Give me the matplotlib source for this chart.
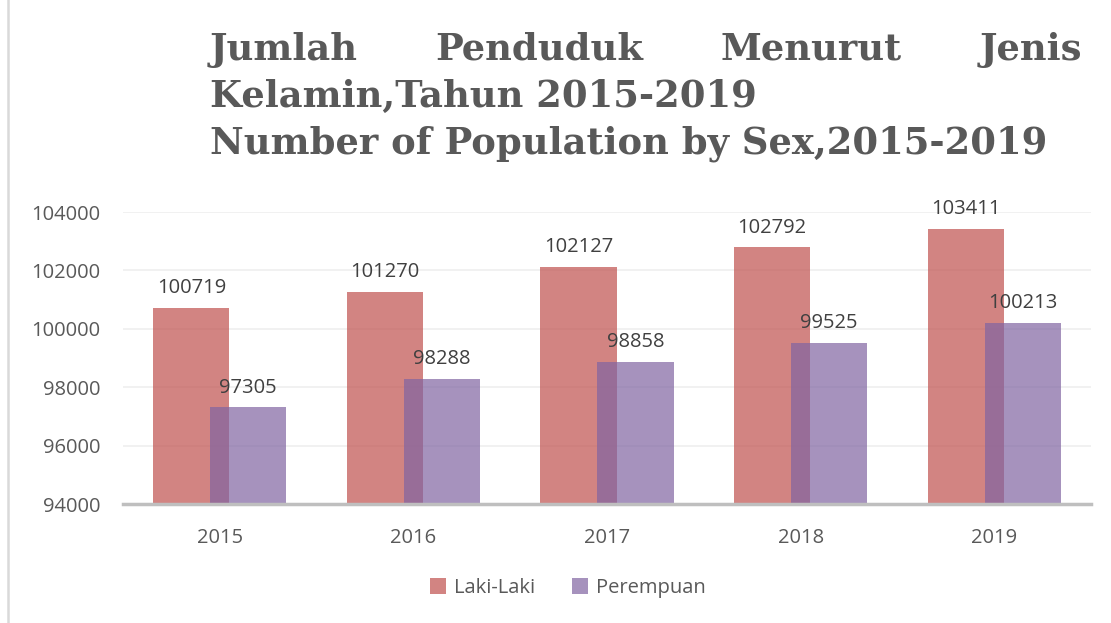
import matplotlib.pyplot as plt
from matplotlib.lines import Line2D
import numpy as np

years = ['2015', '2016', '2017', '2018', '2019']
laki = [100719, 101270, 102127, 102792, 103411]
perempuan = [97305, 98288, 98858, 99525, 100213]
series_names = ['Laki-Laki', 'Perempuan']
title_line1 = ['Jumlah', 'Penduduk', 'Menurut', 'Jenis']
title_rest = ['Kelamin,Tahun 2015-2019', 'Number of Population by Sex,2015-2019']

plt.rcParams['font.family'] = ['Open Sans', 'DejaVu Sans']

W, H = 1111, 623
fig = plt.figure(figsize=(W / 100, H / 100), dpi=100)
ax = fig.add_axes([123 / W, 1 - 504 / H, (1091 - 123) / W, (504 - 212) / H])

x = np.arange(len(years))
bw = 0.393
off = 0.147
red = '#C0504D'
purple = '#8064A2'
ax.bar(x - off, laki, bw, color=red, alpha=0.7, label=series_names[0], zorder=2)
ax.bar(x + off, perempuan, bw, color=purple, alpha=0.7, label=series_names[1], zorder=3)

for xi, v in zip(x, laki):
    ax.annotate(str(v), (xi - off, v), xytext=(0, 7), textcoords='offset points',
                ha='center', va='bottom', fontsize=14.5, color='#404040')
for xi, v in zip(x, perempuan):
    ax.annotate(str(v), (xi + off, v), xytext=(0, 7), textcoords='offset points',
                ha='center', va='bottom', fontsize=14.5, color='#404040')

ax.set_ylim(94000, 104000)
ax.set_xlim(-0.5, 4.5)
ax.set_yticks(np.arange(94000, 104001, 2000))
ax.set_xticks(x)
ax.set_xticklabels(years)
ax.yaxis.grid(True, color='#EFEFEF', linewidth=1.2, zorder=0)
ax.set_axisbelow(True)
for s in ['top', 'right', 'left']:
    ax.spines[s].set_visible(False)
ax.spines['bottom'].set_color('#BFBFBF')
ax.spines['bottom'].set_linewidth(2.5)
ax.spines['bottom'].set_zorder(4)
ax.tick_params(length=0, labelsize=14.5, colors='#595959')
ax.tick_params(axis='x', pad=17)
ax.tick_params(axis='y', pad=16)

ax.legend(loc='center', bbox_to_anchor=(568 / W, (H - 588) / H), bbox_transform=fig.transFigure,
          ncol=2, frameon=False, fontsize=14.5, labelcolor='#595959',
          handlelength=0.8, handleheight=0.8, handletextpad=0.4, columnspacing=1.8)

# left border of chart area
fig.add_artist(Line2D([7.5 / W, 7.5 / W], [0, 1], color='#D9D9D9', linewidth=1.8))

# title: fit third line to its width, first line justified
x0, x1 = 210, 1082
tkw = dict(fontweight='bold', color='#595959', family=['DejaVu Serif'], va='baseline', ha='left')
fig.canvas.draw()
r = fig.canvas.get_renderer()
probe = fig.text(0, 0, title_rest[1], fontsize=20, **tkw)
fs = 20 * (1048 - x0) / probe.get_window_extent(r).width
probe.remove()
baselines = [60, 107, 154]
texts = [fig.text(0, 1 - baselines[0] / H, w, fontsize=fs, **tkw) for w in title_line1]
widths = [t.get_window_extent(r).width for t in texts]
gap = (x1 - x0 - sum(widths)) / (len(texts) - 1)
cx = x0
for t, w in zip(texts, widths):
    t.set_x(cx / W)
    cx += w + gap
for line, b in zip(title_rest, baselines[1:]):
    fig.text(x0 / W, 1 - b / H, line, fontsize=fs, **tkw)

fig.savefig('out.png', dpi=100)
